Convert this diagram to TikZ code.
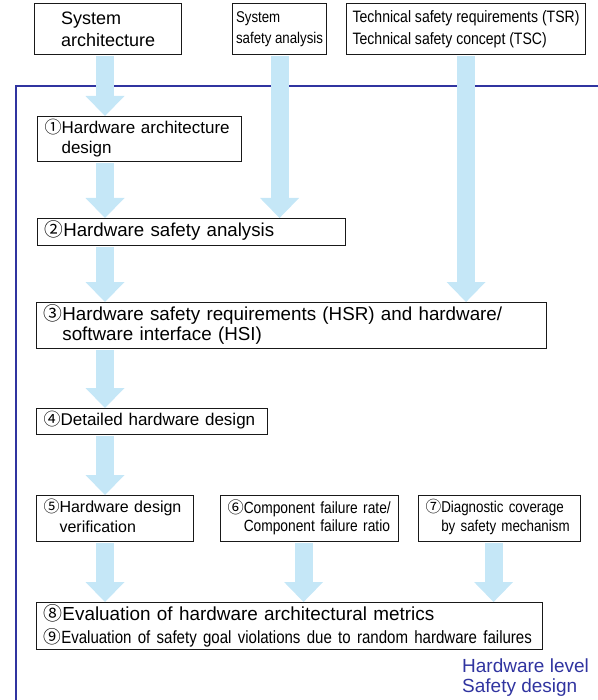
\documentclass[tikz,border=0pt]{standalone}
\usepackage{fontspec}
\setmainfont{Liberation Sans}
\newfontfamily\narrowfont[FakeStretch=0.85]{Liberation Sans}
\newfontfamily\circfont{Noto Sans CJK JP}
\usetikzlibrary{arrows.meta}

\definecolor{flowblue}{RGB}{197,231,247}
\definecolor{levelblue}{RGB}{48,52,160}

\newcommand{\cnum}[1]{{\circfont #1}}
\newcommand{\hwtext}[2]{\cnum{#1}\begin{tabular}[t]{@{}l@{}}#2\end{tabular}}

\tikzset{
  stepbox/.style={draw=black!90, line width=1.1pt, inner xsep=7pt, inner ysep=2pt,
    anchor=north west, align=left},
  flow/.style={draw=flowblue, line width=18pt, shorten <=1pt,
    -{Triangle[width=39pt,length=20pt,line width=0pt]}},
  frameline/.style={draw=levelblue, line width=2.5pt}
}

\begin{document}
\begin{tikzpicture}[x=1pt, y=-1pt]
  \useasboundingbox (0,0) rectangle (597,700);

  % inputs from system level
  \node[stepbox, minimum width=147, minimum height=51,
    font={\fontsize{18}{22}\selectfont}] (sysarch) at (34,3) {System\\architecture};
  \node[stepbox, minimum width=94, minimum height=51, inner xsep=3pt,
    font={\narrowfont\fontsize{15.6}{21}\selectfont}] (ssa) at (232,3) {System\\safety analysis};
  \node[stepbox, minimum width=239, minimum height=51, inner xsep=3pt,
    font={\narrowfont\fontsize{16.5}{22}\selectfont}] (tsr) at (346,3)
    {Technical safety requirements (TSR)\\Technical safety concept (TSC)};

  \draw[frameline] (16,703) -- (16,86) -- (600,86);

  % hardware level steps
  \node[stepbox, minimum width=204, minimum height=45, text width=190,
    font={\fontsize{17}{20}\selectfont}] (hw1) at (37,116)
    {\hwtext{①}{Hardware architecture\\design}};
  \node[stepbox, minimum width=308, minimum height=27, text width=294,
    font={\fontsize{18.7}{22}\selectfont}] (hw2) at (37,218)
    {\hwtext{②}{Hardware safety analysis}};
  \node[stepbox, minimum width=510, minimum height=44, text width=496,
    font={\fontsize{18.8}{20}\selectfont}] (hw3) at (36,302)
    {\hwtext{③}{Hardware safety requirements (HSR) and hardware/\\software interface (HSI)}};
  \node[stepbox, minimum width=231, minimum height=26, text width=217,
    font={\fontsize{17}{20}\selectfont}] (hw4) at (36,408)
    {\hwtext{④}{Detailed hardware design}};
  \node[stepbox, minimum width=157, minimum height=46, text width=143,
    font={\fontsize{16}{20}\selectfont}] (hw5) at (36,495)
    {\hwtext{⑤}{Hardware design\\verification}};
  \node[stepbox, minimum width=178, minimum height=46, text width=164,
    font={\narrowfont\fontsize{16.2}{18.5}\selectfont}] (hw6) at (220,495)
    {\hwtext{⑥}{Component failure rate/\\Component failure ratio}};
  \node[stepbox, minimum width=162, minimum height=46, text width=148,
    font={\narrowfont\fontsize{15.7}{19}\selectfont}] (hw7) at (418,495)
    {\hwtext{⑦}{Diagnostic coverage\\by safety mechanism}};
  \node[stepbox, minimum width=506, minimum height=46, text width=492,
    font={\fontsize{18.9}{23}\selectfont}] (hw8) at (36,602)
    {\cnum{⑧}Evaluation of hardware architectural metrics\\
     \mbox{\narrowfont\fontsize{17.7}{22}\selectfont\cnum{⑨}Evaluation of safety goal violations due to random hardware failures}};

  \node[anchor=north west, inner sep=0pt, align=left, text=levelblue,
    font={\fontsize{19}{20}\selectfont}] (level) at (462,659) {Hardware level\\Safety design};

  % flow arrows
  \coordinate (col) at (105,0);
  \draw[flow] (col |- sysarch.south) -- (col |- hw1.north);
  \draw[flow] (ssa.south) -- (ssa.south |- hw2.north);
  \draw[flow] (tsr.south) -- (tsr.south |- hw3.north);
  \draw[flow] (col |- hw1.south) -- (col |- hw2.north);
  \draw[flow] (col |- hw2.south) -- (col |- hw3.north);
  \draw[flow] (col |- hw3.south) -- (col |- hw4.north);
  \draw[flow] (col |- hw4.south) -- (col |- hw5.north);
  \draw[flow] (col |- hw5.south) -- (col |- hw8.north);
  \draw[flow] ([xshift=-6pt]hw6.south) -- ([xshift=-6pt]hw6.south |- hw8.north);
  \draw[flow] ([xshift=-6pt]hw7.south) -- ([xshift=-6pt]hw7.south |- hw8.north);
\end{tikzpicture}
\end{document}
